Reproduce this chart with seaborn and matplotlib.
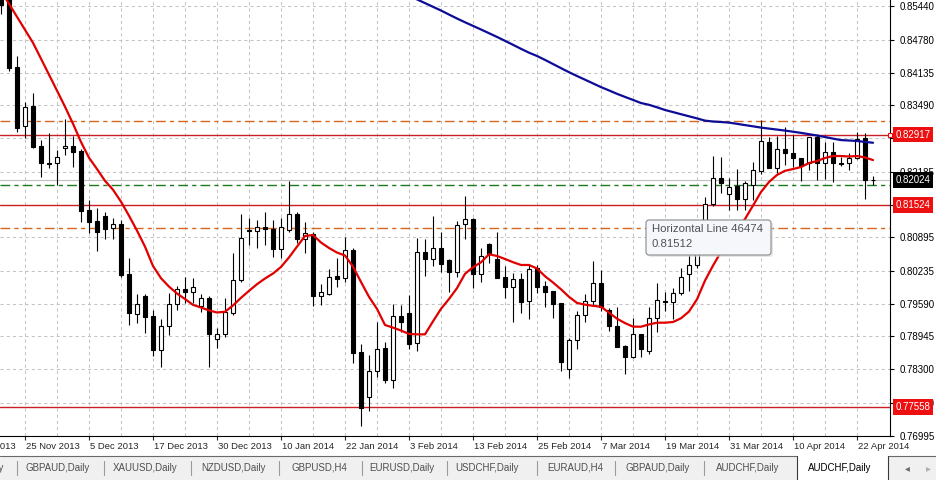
import numpy as np
import pandas as pd
import seaborn as sns
import matplotlib.pyplot as plt
from matplotlib.patches import Rectangle, FancyBboxPatch
from matplotlib.lines import Line2D

# AUDCHF daily (MT4 screenshot)
dates = pd.bdate_range('2013-11-13', '2014-04-24', freq='C',
                       holidays=['2013-12-25', '2014-01-01'])

opens = [0.85720, 0.85621, 0.84250, 0.83084, 0.83477, 0.82697, 0.82356, 0.82350, 0.82652, 0.82691,
         0.82598, 0.81432, 0.81215, 0.81314, 0.81083, 0.81156, 0.80173, 0.79381, 0.79747, 0.79348,
         0.78679, 0.79157, 0.79577, 0.79879, 0.79814, 0.79544, 0.79707, 0.78889, 0.78987, 0.79401,
         0.80056, 0.81048, 0.81019, 0.81091, 0.81058, 0.80659, 0.81039, 0.81347, 0.80856, 0.80960,
         0.79747, 0.79780, 0.80134, 0.80089, 0.80646, 0.78634, 0.77748, 0.78272, 0.78713, 0.78089,
         0.79348, 0.79401, 0.78823, 0.80601, 0.80469, 0.80679, 0.80449, 0.80207, 0.81156, 0.81255,
         0.80167, 0.80757, 0.80463, 0.80114, 0.79924, 0.80069, 0.79648, 0.80286, 0.79938, 0.79839,
         0.79597, 0.78299, 0.78876, 0.79368, 0.79648, 0.79997, 0.79466, 0.79151, 0.78758, 0.78547,
         0.78987, 0.78659, 0.79303, 0.79642, 0.79629, 0.79794, 0.80173, 0.80351, 0.80685, 0.81544,
         0.82056, 0.81746, 0.81904, 0.81642, 0.81924, 0.82205, 0.82776, 0.82263, 0.82626, 0.82547,
         0.82449, 0.82362, 0.82873, 0.82350, 0.82579, 0.82356, 0.82350, 0.82449, 0.82842, 0.82030]
highs = [0.85798, 0.85720, 0.84461, 0.83562, 0.83727, 0.82809, 0.82940, 0.82612, 0.83222, 0.82887,
         0.82632, 0.81629, 0.81466, 0.81399, 0.81269, 0.81235, 0.80483, 0.79780, 0.79780, 0.79466,
         0.79283, 0.79800, 0.79944, 0.80120, 0.80089, 0.79774, 0.79747, 0.79106, 0.79702, 0.80581,
         0.81347, 0.81269, 0.81235, 0.81399, 0.81235, 0.81269, 0.82002, 0.81399, 0.81202, 0.80994,
         0.79971, 0.80272, 0.80494, 0.80907, 0.80685, 0.78797, 0.78581, 0.79236, 0.78843, 0.79577,
         0.79564, 0.79761, 0.80876, 0.80856, 0.81314, 0.80994, 0.80469, 0.81221, 0.81707, 0.81275,
         0.80679, 0.80783, 0.80994, 0.80331, 0.80187, 0.80187, 0.80351, 0.80351, 0.80036, 0.79849,
         0.79603, 0.78909, 0.79446, 0.79774, 0.80429, 0.80252, 0.79499, 0.79530, 0.78777, 0.79303,
         0.78993, 0.79530, 0.79991, 0.79826, 0.79893, 0.80297, 0.80548, 0.80941, 0.81693, 0.82494,
         0.82480, 0.82067, 0.82232, 0.82002, 0.82382, 0.83202, 0.82873, 0.82893, 0.83070, 0.82907,
         0.82455, 0.82867, 0.82920, 0.82764, 0.82776, 0.82480, 0.82547, 0.82960, 0.82940, 0.82101]
lows = [0.85286, 0.84171, 0.82972, 0.82842, 0.82646, 0.82087, 0.82252, 0.81924, 0.82514, 0.82283,
        0.81202, 0.80974, 0.80632, 0.80868, 0.80862, 0.80108, 0.79171, 0.79204, 0.79019, 0.78561,
        0.78350, 0.78974, 0.79466, 0.79597, 0.79597, 0.79433, 0.78350, 0.78713, 0.78928, 0.79368,
        0.80023, 0.80744, 0.80679, 0.80744, 0.80502, 0.80483, 0.80994, 0.80777, 0.80581, 0.79544,
        0.79564, 0.79761, 0.79924, 0.80023, 0.78429, 0.77190, 0.77485, 0.78154, 0.78024, 0.77926,
        0.79039, 0.78693, 0.78659, 0.80140, 0.80337, 0.80219, 0.79814, 0.80120, 0.80862, 0.79893,
        0.80023, 0.80384, 0.80089, 0.79707, 0.79236, 0.79401, 0.79283, 0.79794, 0.79518, 0.79303,
        0.78266, 0.78123, 0.78699, 0.79224, 0.79544, 0.79446, 0.79058, 0.78732, 0.78207, 0.78516,
        0.78535, 0.78600, 0.79039, 0.79452, 0.79283, 0.79761, 0.79845, 0.80292, 0.80607, 0.81511,
        0.81760, 0.81432, 0.81432, 0.81432, 0.81629, 0.82140, 0.82252, 0.82166, 0.82317, 0.82283,
        0.82002, 0.82219, 0.82022, 0.82036, 0.81989, 0.82297, 0.82219, 0.82429, 0.81642, 0.81924]
closes = [0.85464, 0.84218, 0.83050, 0.83463, 0.82677, 0.82350, 0.82346, 0.82468, 0.82691, 0.82567,
          0.81418, 0.81202, 0.81006, 0.81058, 0.81150, 0.80154, 0.79413, 0.79583, 0.79334, 0.78679,
          0.79151, 0.79583, 0.79879, 0.79814, 0.79924, 0.79696, 0.78987, 0.78987, 0.79433, 0.80056,
          0.80876, 0.81029, 0.81091, 0.81052, 0.80659, 0.81103, 0.81347, 0.80856, 0.80974, 0.79747,
          0.79826, 0.80120, 0.80081, 0.80646, 0.78626, 0.77544, 0.78272, 0.78705, 0.78089, 0.79348,
          0.79236, 0.78791, 0.80601, 0.80463, 0.80679, 0.80364, 0.80207, 0.81137, 0.81249, 0.80167,
          0.80534, 0.80567, 0.80100, 0.79924, 0.80069, 0.79629, 0.80272, 0.79924, 0.79826, 0.79577,
          0.78449, 0.78876, 0.79368, 0.79648, 0.79997, 0.79530, 0.79145, 0.78744, 0.78547, 0.78987,
          0.78693, 0.79303, 0.79662, 0.79623, 0.79794, 0.80108, 0.80351, 0.80613, 0.81544, 0.82056,
          0.81957, 0.81890, 0.81642, 0.81969, 0.82219, 0.82795, 0.82263, 0.82626, 0.82547, 0.82449,
          0.82297, 0.82861, 0.82350, 0.82579, 0.82350, 0.82346, 0.82449, 0.82822, 0.82022, 0.82024]

# fast moving average (red)
ma_red = [0.85739, 0.85489, 0.85231, 0.84976, 0.84720, 0.84408, 0.84094, 0.83780, 0.83463, 0.83129,
          0.82770, 0.82460, 0.82238, 0.82006, 0.81831, 0.81596, 0.81320, 0.81027, 0.80712, 0.80331,
          0.80091, 0.79926, 0.79790, 0.79682, 0.79567, 0.79514, 0.79458, 0.79417, 0.79431, 0.79556,
          0.79705, 0.79843, 0.79973, 0.80085, 0.80183, 0.80313, 0.80500, 0.80712, 0.80921, 0.80941,
          0.80793, 0.80685, 0.80595, 0.80538, 0.80319, 0.80017, 0.79725, 0.79487, 0.79171, 0.79119,
          0.79062, 0.78995, 0.78987, 0.78987, 0.79243, 0.79489, 0.79682, 0.79896, 0.80177, 0.80307,
          0.80404, 0.80561, 0.80528, 0.80469, 0.80406, 0.80351, 0.80351, 0.80282, 0.80130, 0.80007,
          0.79873, 0.79725, 0.79605, 0.79571, 0.79548, 0.79530, 0.79415, 0.79295, 0.79208, 0.79139,
          0.79137, 0.79182, 0.79216, 0.79216, 0.79230, 0.79303, 0.79436, 0.79676, 0.80044, 0.80339,
          0.80609, 0.80832, 0.81046, 0.81255, 0.81519, 0.81786, 0.81983, 0.82122, 0.82203, 0.82238,
          0.82277, 0.82356, 0.82395, 0.82455, 0.82494, 0.82494, 0.82484, 0.82494, 0.82465, 0.82415]
# slow moving average (blue), last 59 bars only - above the window before that
ma_blue = [0.85647, 0.85574, 0.85501, 0.85428, 0.85355, 0.85276, 0.85198, 0.85124, 0.85053, 0.84982,
           0.84909, 0.84836, 0.84759, 0.84681, 0.84602, 0.84526, 0.84461, 0.84384, 0.84303, 0.84222,
           0.84142, 0.84067, 0.83995, 0.83922, 0.83849, 0.83784, 0.83717, 0.83656, 0.83597, 0.83536,
           0.83501, 0.83452, 0.83399, 0.83358, 0.83316, 0.83275, 0.83234, 0.83190, 0.83172, 0.83163,
           0.83151, 0.83127, 0.83102, 0.83078, 0.83053, 0.83033, 0.83014, 0.82994, 0.82972, 0.82949,
           0.82923, 0.82897, 0.82868, 0.82836, 0.82807, 0.82799, 0.82789, 0.82771, 0.82755]

red_levels = [0.82917, 0.81524, 0.77558]
fibo_levels = [0.83182, 0.81078]
green_level = 0.81924
bid = 0.82024
price_ticks = [0.85440, 0.84780, 0.84135, 0.83490, 0.82845, 0.82185, 0.81540,
               0.80895, 0.80235, 0.79590, 0.78945, 0.78300, 0.77640, 0.76995]
hidden_ticks = [0.82845, 0.81540]  # sit under the line labels
tooltip = ['Horizontal Line 46474', '0.81512']
tabs = ['AUDCHF,Daily', 'GBPAUD,Daily', 'XAUUSD,Daily', 'NZDUSD,Daily', 'GBPUSD,H4',
        'EURUSD,Daily', 'USDCHF,Daily', 'EURAUD,H4', 'GBPAUD,Daily', 'AUDCHF,Daily']
active_tab = 'AUDCHF,Daily'

sns.set_style('white')
plt.rcParams['font.family'] = ['Liberation Sans', 'DejaVu Sans']

W, H = 936, 480
fig = plt.figure(figsize=(W / 100, H / 100), dpi=100)
ax = fig.add_axes([0, 44 / H, 890 / W, 436 / H])
px = fig.dpi_scale_trans  # inches, i.e. pixel/100, for the window furniture

idx = np.arange(len(dates))
bx = idx[-len(closes):]
o, hi, lo, c = (np.array(v) for v in (opens, highs, lows, closes))

# horizontal objects
dashdot = (0, (7, 3, 3, 3))
for lv in red_levels:
    ax.axhline(lv, color='#cc1f24', lw=1, zorder=2)
for lv in fibo_levels:
    ax.axhline(lv, color='#d8661e', lw=1, ls=dashdot, zorder=2)
ax.axhline(green_level, color='#1c7a1c', lw=1, ls=dashdot, zorder=2)
ax.axhline(bid, color='#c0c0c0', lw=0.8, zorder=2)

# candles
ax.vlines(bx, lo, hi, color='black', lw=0.8, zorder=3)
ax.bar(bx, np.maximum(np.abs(c - o), 0.00004), bottom=np.minimum(o, c), width=0.55,
       color=np.where(c > o, 'white', 'black'), edgecolor='black', linewidth=0.8, zorder=4)

# moving averages
sns.lineplot(x=bx, y=ma_red, color='#e00000', lw=1.6, ax=ax, zorder=5)
sns.lineplot(x=bx[-len(ma_blue):], y=ma_blue, color='#0c0c98', lw=1.6, ax=ax, zorder=5)
ax.set_xlabel('')
ax.set_ylabel('')

ax.set_yticks(price_ticks)
ax.set_yticklabels(['' if p in hidden_ticks else f'{p:.5f}' for p in price_ticks])
ax.yaxis.tick_right()
ax.set_xticks(idx[::8])
ax.set_xticklabels([])
ax.set_xticks(idx[::4], minor=True)
# limits after the ticks, set_xticks would widen them
ax.set_xlim(4.875, 116.125)
ax.set_ylim(0.76988, 0.85562)
ax.grid(True, which='both', color='#c4c4c4', linestyle=(0, (3, 3)), linewidth=0.75)
ax.set_axisbelow(True)
ax.tick_params(axis='y', which='major', right=True, length=3, width=0.8, pad=4,
               labelsize=7, colors='black')
ax.tick_params(axis='x', which='major', bottom=True, length=3, width=0.8)
ax.tick_params(axis='x', which='minor', bottom=False, length=0)
for s in ['left', 'top']:
    ax.spines[s].set_visible(False)
for s in ['right', 'bottom']:
    ax.spines[s].set_color('black')
    ax.spines[s].set_linewidth(0.8)

# price labels on the scale
ytr = ax.get_yaxis_transform()
for lv in red_levels:
    ax.annotate(f'{lv:.5f}', xy=(1, lv), xycoords=ytr, xytext=(4, 0), textcoords='offset points',
                ha='left', va='center', color='white', fontsize=7, annotation_clip=False, zorder=6,
                bbox=dict(boxstyle='square,pad=0.3', fc='#ee1010', ec='none'))
ax.annotate(f'{bid:.5f}', xy=(1, bid), xycoords=ytr, xytext=(4, 0), textcoords='offset points',
            ha='left', va='center', color='white', fontsize=7, annotation_clip=False, zorder=6,
            bbox=dict(boxstyle='square,pad=0.3', fc='black', ec='none'))
ax.plot([1], [red_levels[0]], transform=ytr, marker='s', ms=3.5, mfc='white', mec='#e01010',
        mew=0.8, clip_on=False, zorder=7)

# date scale, label to the right of each tick
xtr = ax.get_xaxis_transform()
for i in idx[::8]:
    d = dates[i]
    ax.annotate(f'{d.day} {d:%b %Y}', xy=(i, 0), xycoords=xtr, xytext=(1, -4),
                textcoords='offset points', ha='left', va='top', fontsize=6.8,
                annotation_clip=False)

# tooltip of the hovered line
fig.add_artist(FancyBboxPatch((6.48, (H - 257) / 100), 1.25, 0.35, transform=px,
                              boxstyle='round,pad=0,rounding_size=0.03',
                              fc='#d8d8d8', ec='none', alpha=0.6))
fig.add_artist(FancyBboxPatch((6.46, (H - 255) / 100), 1.25, 0.35, transform=px,
                              boxstyle='round,pad=0,rounding_size=0.03',
                              fc='#f6f7fa', ec='#8a8a8a', lw=0.8))
fig.text(6.52, (H - 229) / 100, tooltip[0], transform=px, va='center', ha='left',
         fontsize=8.2, color='#50505a')
fig.text(6.52, (H - 244) / 100, tooltip[1], transform=px, va='center', ha='left',
         fontsize=8.2, color='#50505a')

# tab bar of the terminal window
fig.add_artist(Rectangle((0, 0), W / 100, 0.24, transform=px, fc='#f0f0f0', ec='none'))
fig.add_artist(Line2D([0, 7.97], [0.24, 0.24], transform=px, color='#6a6a6a', lw=0.8))
fig.add_artist(Line2D([8.88, W / 100], [0.24, 0.24], transform=px, color='#6a6a6a', lw=0.8))
fig.add_artist(Rectangle((7.97, 0.0), 0.91, 0.24, transform=px, fc='white', ec='none'))
fig.add_artist(Line2D([7.97, 7.97], [0.0, 0.24], transform=px, color='#3a3a3a', lw=0.8))
fig.add_artist(Line2D([8.88, 8.88], [0.0, 0.24], transform=px, color='#3a3a3a', lw=0.8))
tab_left = [26, 113, 201, 291, 369, 455, 547, 625, 716]
for t, xl in zip(tabs[1:], tab_left):
    fig.text(xl / 100, 0.12, t, transform=px, ha='left', va='center', fontsize=7, color='#505050')
fig.text(0.04, 0.12, tabs[0], transform=px, ha='right', va='center', fontsize=7, color='#505050')
for xs in [17, 104, 191, 279, 362, 447, 537, 615, 704]:
    fig.add_artist(Line2D([xs / 100, xs / 100], [0.05, 0.19], transform=px, color='#9a9a9a', lw=0.8))
fig.text(8.08, 0.12, active_tab, transform=px, ha='left', va='center', fontsize=7, color='black')
fig.text(9.07, 0.12, '\u25c2', transform=px, ha='center', va='center', fontsize=7,
         color='#6a6a6a', family='DejaVu Sans')
fig.text(9.28, 0.12, '\u25b8', transform=px, ha='center', va='center', fontsize=7,
         color='#b0b0b0', family='DejaVu Sans')

fig.savefig('out.png', dpi=100)
